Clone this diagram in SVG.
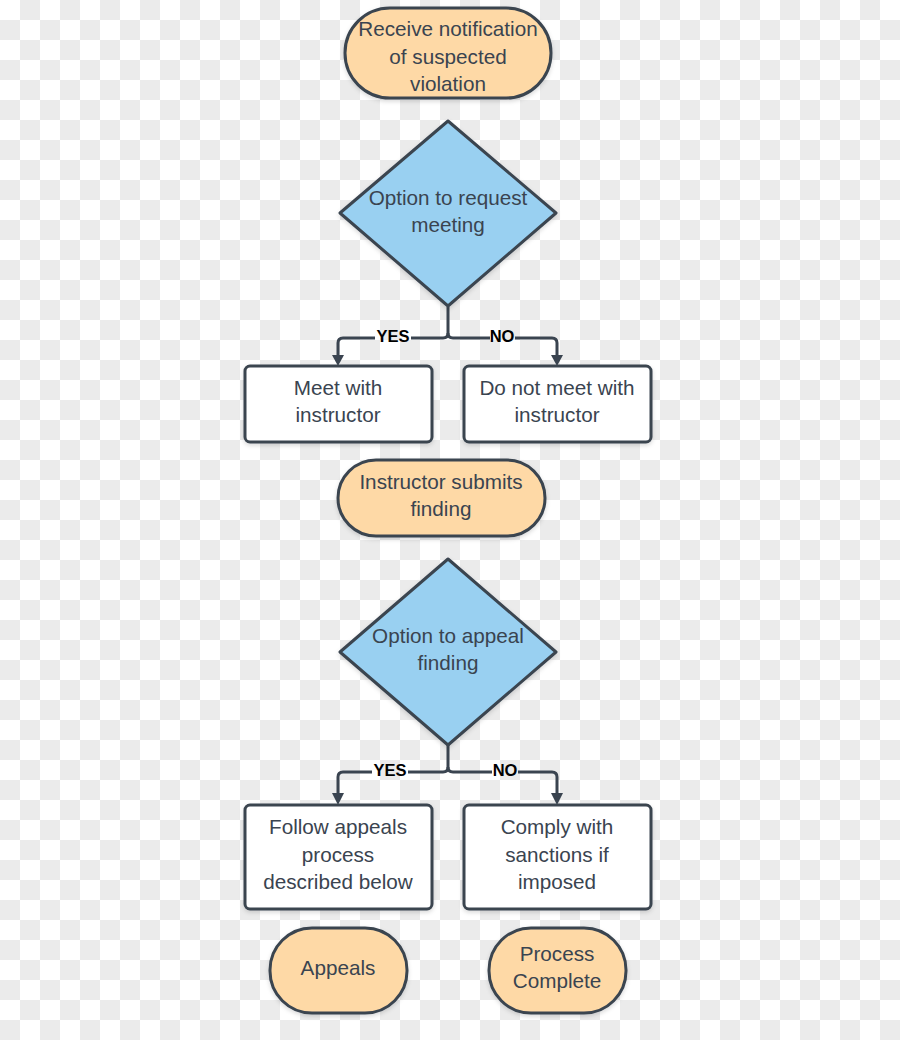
<svg xmlns="http://www.w3.org/2000/svg" width="900" height="1040" viewBox="0 0 900 1040">
<defs>
<pattern id="checker" x="0" y="0" width="40" height="40" patternUnits="userSpaceOnUse">
<rect width="40" height="40" fill="#ffffff"/>
<rect x="20" y="0" width="20" height="20" fill="#ebebeb"/>
<rect x="0" y="20" width="20" height="20" fill="#ebebeb"/>
</pattern>
<filter id="sh" x="-10%" y="-10%" width="120%" height="130%">
<feDropShadow dx="0" dy="2" stdDeviation="2" flood-color="#000" flood-opacity="0.15"/>
</filter>
</defs>
<style>
.term{fill:#fed9a6;stroke:#3a4450;stroke-width:3;filter:url(#sh)}
.dec{fill:#99d0f1;stroke:#3a4450;stroke-width:3;stroke-linejoin:round;filter:url(#sh)}
.proc{fill:#ffffff;stroke:#3a4450;stroke-width:3;filter:url(#sh)}
.t{font-family:"Liberation Sans",Arial,sans-serif;font-size:20.7px;fill:#3a4450;text-anchor:middle}
.lbl{font-family:"Liberation Sans",Arial,sans-serif;font-size:16.5px;font-weight:bold;fill:#000;text-anchor:middle}
.ln{fill:none;stroke:#3a4450;stroke-width:3;stroke-linejoin:round}
.ah{fill:#3a4450}
</style>
<rect width="900" height="1040" fill="url(#checker)"/>

<g id="connectors">
<path class="ln" d="M448,307 V333 Q448,338 453,338 H490"/>
<path class="ln" d="M448,333 Q448,338 443,338 H411"/>
<path class="ln" d="M375,338 H343 Q338,338 338,343 V356"/>
<path class="ln" d="M515,338 H552 Q557,338 557,343 V356"/>
<path class="ah" d="M332,355 L344,355 L338,366 Z"/>
<path class="ah" d="M551,355 L563,355 L557,366 Z"/>
<text class="lbl" x="393" y="342">YES</text>
<text class="lbl" x="502" y="342">NO</text>

<path class="ln" d="M448,745 V767 Q448,772 453,772 H492"/>
<path class="ln" d="M448,767 Q448,772 443,772 H408"/>
<path class="ln" d="M372,772 H343 Q338,772 338,777 V794"/>
<path class="ln" d="M518,772 H552 Q557,772 557,777 V794"/>
<path class="ah" d="M332,793 L344,793 L338,805 Z"/>
<path class="ah" d="M551,793 L563,793 L557,805 Z"/>
<text class="lbl" x="390" y="776">YES</text>
<text class="lbl" x="505" y="776">NO</text>
</g>

<g id="receive">
<rect class="term" x="345" y="8" width="206" height="90" rx="45"/>
<text class="t" x="448" y="36">Receive notification</text>
<text class="t" x="448" y="64">of suspected</text>
<text class="t" x="448" y="91">violation</text>
</g>

<g id="decision1">
<path class="dec" d="M448,121 L556,213 L448,306 L340,213 Z"/>
<text class="t" x="448" y="205">Option to request</text>
<text class="t" x="448" y="232">meeting</text>
</g>

<g id="meet">
<rect class="proc" x="245" y="366" width="187" height="76" rx="5"/>
<text class="t" x="338" y="395">Meet with</text>
<text class="t" x="338" y="422">instructor</text>
</g>

<g id="nomeet">
<rect class="proc" x="464" y="366" width="187" height="76" rx="5"/>
<text class="t" x="557" y="395">Do not meet with</text>
<text class="t" x="557" y="422">instructor</text>
</g>

<g id="submits">
<rect class="term" x="338" y="460" width="207" height="76" rx="38"/>
<text class="t" x="441" y="489">Instructor submits</text>
<text class="t" x="441" y="516">finding</text>
</g>

<g id="decision2">
<path class="dec" d="M448,559 L556,652 L448,745 L340,652 Z"/>
<text class="t" x="448" y="643">Option to appeal</text>
<text class="t" x="448" y="670">finding</text>
</g>

<g id="follow">
<rect class="proc" x="245" y="805" width="187" height="104" rx="5"/>
<text class="t" x="338" y="834">Follow appeals</text>
<text class="t" x="338" y="862">process</text>
<text class="t" x="338" y="889">described below</text>
</g>

<g id="comply">
<rect class="proc" x="464" y="805" width="187" height="104" rx="5"/>
<text class="t" x="557" y="834">Comply with</text>
<text class="t" x="557" y="862">sanctions if</text>
<text class="t" x="557" y="889">imposed</text>
</g>

<g id="appeals">
<rect class="term" x="270" y="928" width="137" height="85" rx="42"/>
<text class="t" x="338" y="975">Appeals</text>
</g>

<g id="complete">
<rect class="term" x="489" y="928" width="137" height="85" rx="42"/>
<text class="t" x="557" y="961">Process</text>
<text class="t" x="557" y="988">Complete</text>
</g>
</svg>
